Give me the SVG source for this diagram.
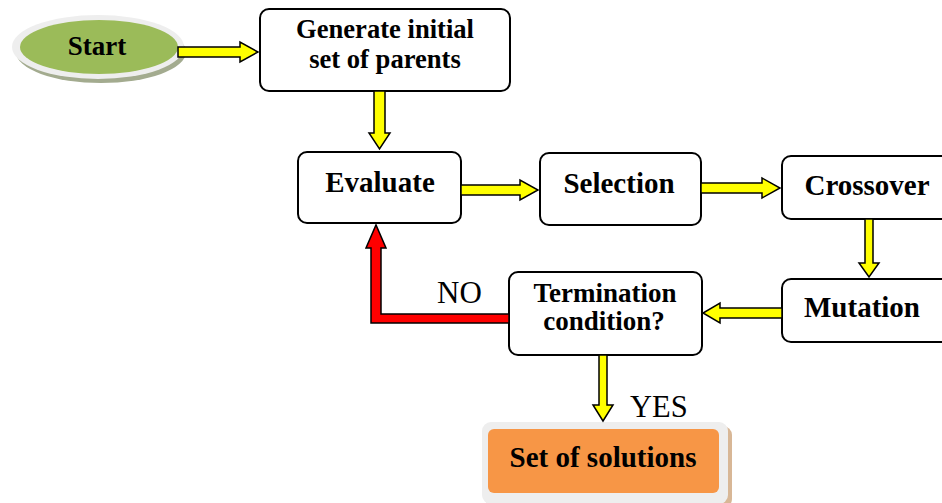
<svg xmlns="http://www.w3.org/2000/svg" width="942" height="503" viewBox="0 0 942 503">
<style>
.box{fill:#ffffff;stroke:#000000;stroke-width:2}
.t{font-family:"Liberation Serif","Times New Roman",serif;font-weight:bold;fill:#000000;text-anchor:middle}
.lbl{font-family:"Liberation Serif","Times New Roman",serif;fill:#000000}
.ya{fill:#ffff00;stroke:#000000;stroke-width:1.5;stroke-linejoin:miter}
.ra{fill:#ff0000;stroke:#000000;stroke-width:1.5;stroke-linejoin:miter}
</style>
<rect width="942" height="503" fill="#ffffff"/>
<g id="start">
  <ellipse cx="101" cy="52" rx="85" ry="31" fill="#a3ab8f"/>
  <ellipse cx="98" cy="47" rx="86" ry="32" fill="#eeeeee"/>
  <ellipse cx="99" cy="47" rx="79" ry="27" fill="#9bbb59"/>
  <text class="t" x="97" y="55" font-size="27">Start</text>
</g>
<g id="generate">
  <rect class="box" x="260" y="9" width="250" height="82" rx="9"/>
  <text class="t" x="385" y="38" font-size="26.6">Generate initial</text>
  <text class="t" x="385" y="68" font-size="26.6">set of parents</text>
</g>
<g id="evaluate">
  <rect class="box" x="298" y="152" width="163" height="71" rx="9"/>
  <text class="t" x="380" y="192" font-size="29">Evaluate</text>
</g>
<g id="selection">
  <rect class="box" x="540" y="153" width="161" height="72" rx="9"/>
  <text class="t" x="619" y="193" font-size="29">Selection</text>
</g>
<g id="crossover">
  <rect class="box" x="782" y="156" width="170" height="63" rx="9"/>
  <text class="t" x="867" y="195" font-size="29">Crossover</text>
</g>
<g id="mutation">
  <rect class="box" x="782" y="279" width="170" height="63" rx="9"/>
  <text class="t" x="862" y="317" font-size="29">Mutation</text>
</g>
<g id="termination">
  <rect class="box" x="509" y="272" width="193" height="83" rx="9"/>
  <text class="t" x="605" y="302" font-size="27">Termination</text>
  <text class="t" x="604" y="330" font-size="27">condition?</text>
</g>
<g id="solutions">
  <rect x="486" y="426" width="246" height="82" rx="9" fill="#d8b796"/>
  <rect x="482" y="422" width="246" height="82" rx="9" fill="#eeeeee"/>
  <rect x="488" y="429" width="231" height="64" rx="6" fill="#f79646"/>
  <text class="t" x="603" y="467" font-size="29">Set of solutions</text>
</g>
<g id="connectors">
  <polygon class="ya" points="178,47 240,47 240,42 258,52 240,62 240,57 178,57"/>
  <polygon class="ya" points="374,91 385,91 385,133 390,133 379.5,149 369,133 374,133"/>
  <polygon class="ya" points="461,185 520,185 520,180 538,190 520,200 520,195 461,195"/>
  <polygon class="ya" points="701,183 762,183 762,178 780,188 762,198 762,193 701,193"/>
  <polygon class="ya" points="865,219 873,219 873,263 879,263 869,277 859,263 865,263"/>
  <polygon class="ya" points="782,308 720,308 720,303 703,313 720,323 720,318 782,318"/>
  <polygon class="ya" points="599,355 607,355 607,405 613,405 603,421 593,405 599,405"/>
  <polygon class="ra" points="509,314 381,314 381,248 386,248 376,225 366,248 371,248 371,323 509,323"/>
  <text class="lbl" x="437" y="303" font-size="31">NO</text>
  <text class="lbl" x="630" y="417" font-size="30.5">YES</text>
</g>
</svg>
